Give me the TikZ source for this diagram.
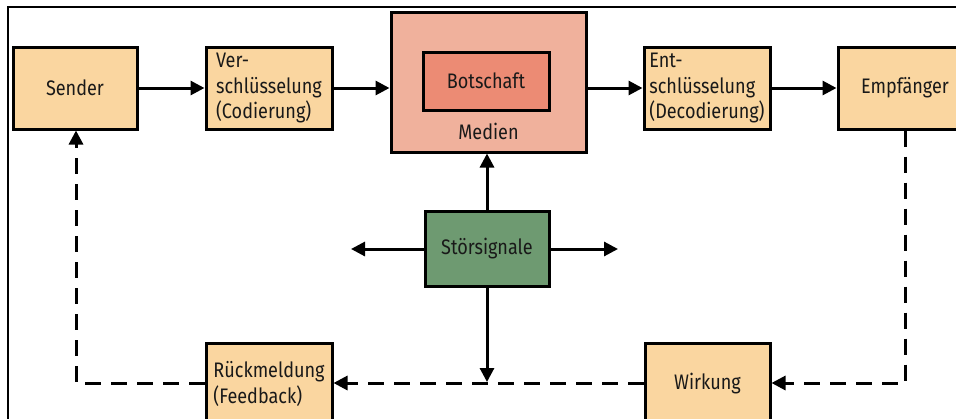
\documentclass[tikz,border=0pt]{standalone}
\usepackage{fontspec}
\setmainfont{Fira Sans}[FakeStretch=0.86]
\usetikzlibrary{arrows.meta}
\definecolor{boxorange}{RGB}{250,214,160}
\definecolor{medienfill}{RGB}{240,177,156}
\definecolor{botschaftfill}{RGB}{236,139,116}
\definecolor{noisegreen}{RGB}{110,154,113}
\tikzset{
  every node/.style={font=\fontsize{21}{25.5}\selectfont, text=black!90},
  blockbox/.style={draw=black, line width=3pt, rectangle, inner sep=0pt,
    minimum width=126pt, minimum height=82pt, fill=boxorange, align=left},
  flow/.style={line width=3pt, -{Triangle[length=14pt,width=14pt]}},
  backflow/.style={line width=3pt, dash pattern=on 16pt off 10pt,
    -{Triangle[length=14pt,width=14pt]}}
}
\begin{document}
\begin{tikzpicture}[x=1pt,y=-1pt]
  \useasboundingbox (0,0) rectangle (956,418);
  \clip (0,0) rectangle (956,418);
  \fill[white] (0,0) rectangle (956,418);
  % outer frame
  \draw[line width=2pt] (8,430) -- (8,7) -- (970,7);

  % top row
  \node[blockbox, minimum width=124pt] (sender) at (75,88) {Sender};
  \node[blockbox] (enc) at (269,88) {Ver-\\schlüsselung\\(Codierung)};
  \node[blockbox, fill=medienfill, minimum width=195pt, minimum height=140pt] (medien) at (488.5,82) {};
  \node[blockbox, fill=botschaftfill, minimum width=126pt, minimum height=58pt] (botschaft) at (486,81) {Botschaft};
  \node (medienlabel) at (488.5,131) {Medien};
  \node[blockbox] (dec) at (707,88) {Ent-\\schlüsselung\\(Decodierung)};
  \node[blockbox, minimum width=134pt] (empf) at (905,88) {Empfänger};

  % noise
  \node[blockbox, fill=noisegreen, minimum width=124pt, minimum height=75pt] (noise) at (487,248.5) {Störsignale};

  % bottom row
  \node[blockbox] (rueck) at (269,384) {Rückmeldung\\(Feedback)};
  \node[blockbox, minimum width=125pt] (wirkung) at (707.5,384) {Wirkung};

  % helper coordinates
  \coordinate (noiseL) at (351,249);
  \coordinate (noiseR) at (618,249);
  \coordinate (noiseD) at (487,382);
  \coordinate (empfCorner) at (905,383);
  \coordinate (senderCorner) at (76,383);

  % forward chain
  \draw[flow] (sender) -- (enc);
  \draw[flow] (enc) -- (enc -| medien.west);
  \draw[flow] (medien.east |- dec) -- (dec);
  \draw[flow] (dec) -- (empf);

  % noise arrows
  \draw[flow] (noise.north) -- (noise.north |- medien.south);
  \draw[flow] (noise.west |- noiseL) -- (noiseL);
  \draw[flow] (noise.east |- noiseR) -- (noiseR);
  \draw[flow] (noise.south) -- (noiseD);

  % feedback loop
  \draw[backflow] (empf.south) -- (empfCorner) -- (wirkung.east |- empfCorner);
  \draw[backflow] (wirkung.west |- empfCorner) -- (rueck.east |- empfCorner);
  \draw[backflow] (rueck.west |- senderCorner) -- (senderCorner) -- (senderCorner |- sender.south);
\end{tikzpicture}
\end{document}
